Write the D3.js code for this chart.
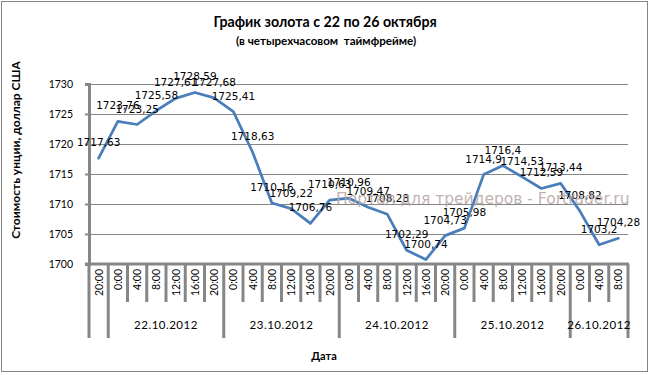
<!DOCTYPE html>
<html><head><meta charset="utf-8">
<script src="https://cdn.jsdelivr.net/npm/d3@7"></script>
<style>
body{margin:0;background:#fff;}
text{white-space:pre;}
</style>
</head><body>
<svg id="chart" width="651" height="375"></svg>
<script>
// ---- data ----
const timeLabels = ["20:00",
  "0:00","4:00","8:00","12:00","16:00","20:00",
  "0:00","4:00","8:00","12:00","16:00","20:00",
  "0:00","4:00","8:00","12:00","16:00","20:00",
  "0:00","4:00","8:00","12:00","16:00","20:00",
  "0:00","4:00","8:00"];
const dateLabels = ["", "22.10.2012", "23.10.2012", "24.10.2012", "25.10.2012", "26.10.2012"];
const dateSpans = [1, 6, 6, 6, 6, 3];
const prices = [1717.63,
  1723.76, 1723.25, 1725.58, 1727.61, 1728.59, 1727.68,
  1725.41, 1718.63, 1710.16, 1709.22, 1706.76, 1710.63,
  1710.96, 1709.47, 1708.28, 1702.29, 1700.74, 1704.73,
  1705.98, 1714.9, 1716.4, 1714.53, 1712.59, 1713.44,
  1708.82, 1703.2, 1704.28];
const yTicks = [1700, 1705, 1710, 1715, 1720, 1725, 1730];
const titleText = "График золота с 22 по 26 октября";
const subtitleText = "(в четырехчасовом  таймфрейме)";
const yTitle = "Стоимость унции, доллар США";
const xTitle = "Дата";
const watermark = "Портал для трейдеров - Fortrader.ru";

// ---- layout ----
const svg = d3.select("#chart");
const L = 89, R = 628, T = 84, B = 264;
const grey = "#868686";
const x = d3.scaleBand().domain(d3.range(prices.length)).range([L, R]).padding(0);
const y = d3.scaleLinear().domain([1700, 1730]).range([B, T]);

// border
svg.append("rect").attr("x", 1.5).attr("y", 1.5).attr("width", 646).attr("height", 370)
  .attr("fill", "#fff").attr("stroke", grey).attr("stroke-width", 1);

// titles
svg.append("text").attr("x", 325).attr("y", 27).attr("text-anchor", "middle")
  .attr("font-family", "Lato").attr("font-weight", "bold").attr("font-size", 14.2)
  .attr("fill", "#000").text(titleText);
svg.append("text").attr("x", 326).attr("y", 45).attr("text-anchor", "middle")
  .attr("font-family", "Lato").attr("font-weight", "bold").attr("font-size", 11.6)
  .attr("fill", "#000").text(subtitleText);

// gridlines
const g = svg.append("g");
g.selectAll("line.grid").data(yTicks.filter(d => d !== 1700)).join("line")
  .attr("x1", L).attr("x2", R).attr("y1", d => Math.round(y(d)) + 0.5).attr("y2", d => Math.round(y(d)) + 0.5)
  .attr("stroke", grey).attr("stroke-width", 1);

// y axis
const yAxis = d3.axisLeft(y).tickValues(yTicks).tickSize(4).tickPadding(12).tickFormat(d3.format("d"));
const ya = svg.append("g").attr("transform", `translate(${L},0)`).call(yAxis);
ya.select(".domain").attr("stroke", grey).attr("stroke-width", 3);
ya.selectAll(".tick line").attr("stroke", grey).attr("stroke-width", 2);
ya.selectAll(".tick text").attr("font-family", "Lato").attr("font-size", 10.5).attr("fill", "#000");

// x axis line
svg.append("line").attr("x1", L - 4).attr("x2", R + 1).attr("y1", B).attr("y2", B)
  .attr("stroke", grey).attr("stroke-width", 3);

// category separators & labels
const bw = x.bandwidth();
const sepIdx = d3.range(prices.length + 1);
const groupStarts = [0];
dateSpans.forEach((s, i) => groupStarts.push(groupStarts[i] + s));
svg.selectAll("line.sep").data(sepIdx).join("line")
  .attr("x1", i => L + i * bw).attr("x2", i => L + i * bw)
  .attr("y1", B).attr("y2", i => groupStarts.includes(i) ? 338 : 302)
  .attr("stroke", grey).attr("stroke-width", 3);
svg.selectAll("text.cat").data(timeLabels).join("text")
  .attr("transform", (d, i) => `translate(${x(i) + bw / 2 + 4},${269}) rotate(-90)`)
  .attr("text-anchor", "end").attr("font-family", "Lato").attr("font-size", 10.5)
  .attr("fill", "#000").text(d => d);
svg.selectAll("text.date").data(dateLabels).join("text")
  .attr("x", (d, i) => L + (groupStarts[i] + dateSpans[i] / 2) * bw)
  .attr("y", 329).attr("text-anchor", "middle").attr("font-family", "Lato")
  .attr("font-size", 11.5).attr("letter-spacing", 0.5).attr("fill", "#000").text(d => d);

// axis titles
svg.append("text").attr("transform", "translate(20,150) rotate(-90)").attr("text-anchor", "middle")
  .attr("font-family", "Lato").attr("font-weight", "bold").attr("font-size", 12)
  .attr("fill", "#000").text(yTitle);
svg.append("text").attr("x", 324).attr("y", 360).attr("text-anchor", "middle")
  .attr("font-family", "Lato").attr("font-weight", "bold").attr("font-size", 11)
  .attr("fill", "#000").text(xTitle);

// line
const line = d3.line().x((d, i) => x(i) + bw / 2).y(d => y(d));
svg.append("path").datum(prices).attr("d", line).attr("fill", "none")
  .attr("stroke", "#4a7ebb").attr("stroke-width", 2.75).attr("stroke-linejoin", "round").attr("stroke-linecap", "round");

// data labels
svg.selectAll("text.lbl").data(prices).join("text")
  .attr("x", (d, i) => x(i) + bw / 2).attr("y", d => y(d) - 12)
  .attr("text-anchor", "middle").attr("font-family", "DejaVu Sans").attr("font-size", 10.5)
  .attr("fill", "#000").text(d => String(d).replace(".", ","));

// watermark
svg.append("text").attr("x", 336).attr("y", 204).attr("font-family", "DejaVu Sans")
  .attr("font-size", 15.5).attr("fill", "#b8a8a8").attr("fill-opacity", 0.9).text(watermark);
</script>
</body></html>
